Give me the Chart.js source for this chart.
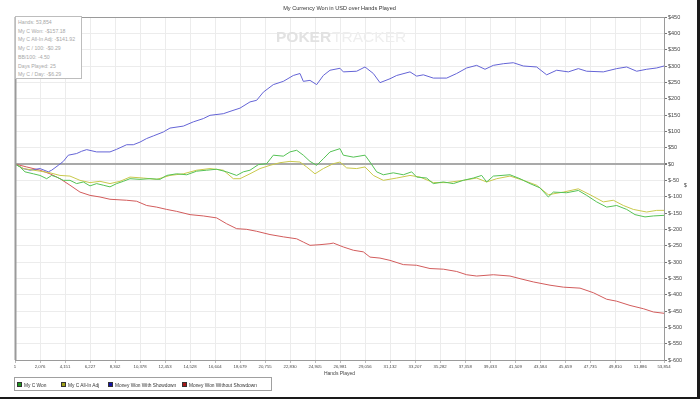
<!DOCTYPE html>
<html>
<head>
<meta charset="utf-8">
<script src="https://cdn.jsdelivr.net/npm/chart.js@4.4.1/dist/chart.umd.min.js"></script>
<style>
  html, body { margin:0; padding:0; background:#fff; }
  #wrap { position:relative; width:700px; height:399px; overflow:hidden; font-family:"Liberation Sans", Arial, sans-serif; }
  #c { position:absolute; left:0; top:0; }
  #title { position:absolute; left:0; width:679px; top:5px; text-align:center; font-size:5.6px; color:#333; }
  #stats { position:absolute; left:15px; top:16px; width:67px; height:63px; border:1px solid #bdbdbd; background:#fff; font-size:5.2px; color:#a8a8a8; padding:1px 0 0 2px; box-sizing:border-box; line-height:8.7px; }
  #legend { position:absolute; left:14px; top:377px; width:258px; height:14px; border:1px solid #a0a0a0; box-sizing:border-box; font-size:4.8px; color:#333; }
  .li { position:absolute; top:3.5px; line-height:5px; white-space:nowrap; }
  .sq { display:inline-block; width:3px; height:3px; border:1px solid #333; margin-right:2px; vertical-align:-0.5px; }
  #ytitle { position:absolute; left:684px; top:182px; font-size:5px; color:#333; }
  #edgeR { position:absolute; right:0; top:0; width:3px; height:399px; background:#1a1a1a; }
  #edgeB { position:absolute; left:0; bottom:0; width:700px; height:2px; background:#1a1a1a; }
</style>
</head>
<body>
<div id="wrap">
  <canvas id="c" width="700" height="399"></canvas>
  <div id="title"></div>
  <div id="stats"></div>
  <div id="legend"></div>
  <div id="ytitle">$</div>
  <div id="edgeR"></div>
  <div id="edgeB"></div>
</div>
<script>
// ---- DATA ----
const chartTitle = 'My Currency Won in USD over Hands Played';
const xAxisTitle = 'Hands Played';
const seriesNames = ['My C Won', 'My C All-In Adj', 'Money Won With Showdown', 'Money Won Without Showdown'];
const statsLines = ['Hands: 53,854', 'My C Won: -$157.18', 'My C All-In Adj: -$141.92', 'My C / 100: -$0.29', 'BB/100: -4.50', 'Days Played: 25', 'My C / Day: -$6.29'];
const xTickValues = [1, 2076, 4151, 6227, 8302, 10378, 12453, 14528, 16604, 18679, 20755, 22830, 24905, 26981, 29056, 31132, 33207, 35282, 37358, 39433, 41509, 43584, 45659, 47735, 49810, 51886, 53854];

const wonHands = [1,415,830,1521,2074,2628,3043,3458,4011,4564,5117,5670,6224,6776,7330,7883,8436,8990,9543,10372,11202,12032,12586,13415,14245,15075,15905,16734,17564,18394,18947,19500,20192,20883,21436,22266,22819,23373,23926,24479,25032,25585,26138,26968,27245,28075,29043,29458,30011,30565,31394,32224,32916,33331,34160,34714,35543,36373,37203,38033,38724,39139,39692,41075,41905,42735,43565,44256,44671,45778,46746,47438,48267,49097,49927,50756,51448,52278,52970,53854];
const wonValues = [0,-9,-24,-30,-35,-45,-35,-40,-50,-50,-60,-55,-67,-60,-65,-70,-60,-53,-45,-47,-45,-47,-35,-30,-33,-22,-19,-16,-24,-35,-24,-19,-2,1,27,24,37,42,27,8,-4,16,37,47,27,21,27,6,-24,-33,-27,-33,-24,-40,-43,-60,-55,-60,-50,-43,-35,-55,-37,-33,-45,-60,-73,-101,-86,-88,-81,-96,-116,-132,-127,-139,-155,-162,-159,-157.18];

const adjHands = [1,692,2074,2904,3734,4564,5394,6224,7053,7883,8713,9543,10649,11756,12862,13968,15075,16181,17287,18117,18670,19500,20330,21160,21989,22819,23649,24202,24894,25585,26415,26968,27522,28352,29043,29735,30565,31671,32777,33607,34714,35820,37203,38309,39139,39969,41075,42182,43288,44256,45501,46746,47715,48820,49650,50480,51310,52417,53246,53854];
const adjValues = [0,-14,-22,-27,-35,-37,-50,-57,-53,-60,-53,-40,-43,-47,-35,-30,-19,-14,-19,-45,-45,-30,-14,-4,4,8,6,-9,-30,-14,1,6,-12,-14,-9,-35,-50,-43,-35,-40,-57,-57,-50,-43,-55,-45,-37,-50,-65,-94,-86,-76,-94,-116,-111,-127,-139,-147,-142,-141.92];

const sdHands = [1,692,1245,2074,2766,3043,3596,4011,4426,5117,5532,5947,6776,7883,8436,9266,9820,10372,10926,11479,12309,12862,13968,14798,15628,16181,17287,17841,18670,19500,20053,20607,21436,22266,23096,23649,23926,24479,25032,25585,26138,26968,27245,28352,29043,29735,30288,31118,31671,32777,33331,33884,34714,35820,36650,37480,38309,39001,39692,40522,41352,42182,43288,44118,44948,45916,46746,47438,48820,49927,50756,51587,52417,53246,53854];
const sdValues = [0,-14,-19,-14,-24,-19,-4,8,27,32,39,44,37,37,45,59,59,67,78,86,98,110,116,129,139,149,154,161,171,190,195,220,243,253,271,277,253,256,243,271,287,293,282,284,297,277,249,261,271,282,269,273,263,263,277,294,302,290,302,307,310,300,297,273,287,282,292,284,282,292,297,284,290,294,300];

const nsdHands = [1,968,2074,2904,3734,4564,5394,6224,7053,7883,9266,10096,10926,11756,12586,13415,14521,15628,16734,17564,18394,19224,20053,21160,22266,23373,23926,24479,25309,26138,26416,27245,28075,28905,29458,30288,31118,32224,33331,34437,35543,36650,37480,38309,39692,41075,41905,43012,44395,45501,46885,47991,49097,49927,51033,52140,52970,53854];
const nsdValues = [0,-9,-19,-30,-45,-65,-86,-96,-101,-108,-111,-114,-127,-132,-139,-145,-155,-159,-165,-183,-198,-200,-206,-216,-223,-229,-239,-249,-247,-244,-242,-254,-264,-269,-285,-288,-295,-308,-310,-320,-322,-329,-339,-343,-339,-343,-351,-361,-371,-377,-380,-394,-414,-420,-433,-443,-453,-457];

// ---- STYLES ----
const lineColors = ['#55c255', '#c9c94c', '#6464d6', '#d25c5c'];
const legendColors = ['#1f9a1f', '#a0a018', '#1414a8', '#a81818'];

const toPts = (xs, ys) => xs.map((x, i) => ({ x: x, y: ys[i] }));

document.getElementById('title').textContent = chartTitle;
document.getElementById('stats').innerHTML = statsLines.map(s => '<div>' + s + '</div>').join('');
const legendX = [2, 46, 93, 167];
document.getElementById('legend').innerHTML = seriesNames.map((n, i) =>
  '<span class="li" style="left:' + legendX[i] + 'px"><span class="sq" style="background:' + legendColors[i] + '"></span>' + n + '</span>').join('');

const frame = {
  id: 'frame',
  beforeDatasetsDraw(chart) {
    const { ctx } = chart;
    ctx.save();
    ctx.textBaseline = 'middle';
    ctx.font = 'bold 15.5px "Liberation Sans", Arial, sans-serif';
    ctx.fillStyle = '#e2e2e2';
    ctx.fillText('POKER', 276, 38);
    const w = ctx.measureText('POKER').width;
    ctx.font = '15.5px "Liberation Sans", Arial, sans-serif';
    ctx.fillStyle = '#eeeeee';
    ctx.fillText('TRACKER', 276 + w + 1, 38);
    ctx.restore();
  },
  afterDraw(chart) {
    const { ctx, chartArea: a } = chart;
    ctx.save();
    ctx.strokeStyle = '#9a9a9a';
    ctx.lineWidth = 1;
    ctx.strokeRect(a.left + 0.5, a.top + 0.5, a.right - a.left, a.bottom - a.top);
    ctx.fillStyle = '#9a9a9a';
    ctx.fillRect(a.left - 0.5, a.top, 2, a.bottom - a.top);
    ctx.restore();
  }
};

new Chart(document.getElementById('c'), {
  type: 'line',
  data: {
    datasets: [
      { label: seriesNames[0], data: toPts(wonHands, wonValues), borderColor: lineColors[0] },
      { label: seriesNames[1], data: toPts(adjHands, adjValues), borderColor: lineColors[1] },
      { label: seriesNames[2], data: toPts(sdHands, sdValues), borderColor: lineColors[2] },
      { label: seriesNames[3], data: toPts(nsdHands, nsdValues), borderColor: lineColors[3] }
    ]
  },
  options: {
    responsive: false,
    animation: false,
    devicePixelRatio: 1,
    layout: { padding: { left: 15, right: 0, top: 17, bottom: 22 } },
    elements: { line: { borderWidth: 1, tension: 0 }, point: { radius: 0 } },
    plugins: { legend: { display: false }, title: { display: false }, tooltip: { enabled: false } },
    scales: {
      x: {
        type: 'linear', min: 1, max: 53854,
        afterBuildTicks: s => { s.ticks = xTickValues.map(v => ({ value: v })); },
        afterFit: s => { s.height = 17; },
        ticks: { autoSkip: false, maxRotation: 0, minRotation: 0, padding: 1, color: '#444',
                 font: { family: '"Liberation Sans", Arial, sans-serif', size: 4.3 },
                 callback: v => Number(v).toLocaleString('en-US') },
        grid: { color: '#ececec', lineWidth: 1, tickLength: 3, tickColor: '#bbb' },
        border: { color: '#9a9a9a' },
        title: { display: true, text: xAxisTitle, color: '#444', padding: 0,
                 font: { family: '"Liberation Sans", Arial, sans-serif', size: 5 } }
      },
      y: {
        position: 'right', min: -600, max: 450,
        afterFit: s => { s.width = 36; },
        ticks: { stepSize: 50, padding: 1, color: '#444',
                 font: { family: '"Liberation Sans", Arial, sans-serif', size: 5.5 },
                 callback: v => '$' + v },
        grid: { color: c => (c.tick && c.tick.value === 0) ? '#a9a9a9' : '#ececec',
                lineWidth: c => (c.tick && c.tick.value === 0) ? 2 : 1,
                tickLength: 3, tickColor: '#777' },
        border: { color: '#8a8a8a' }
      }
    }
  },
  plugins: [frame]
});
</script>
</body>
</html>
